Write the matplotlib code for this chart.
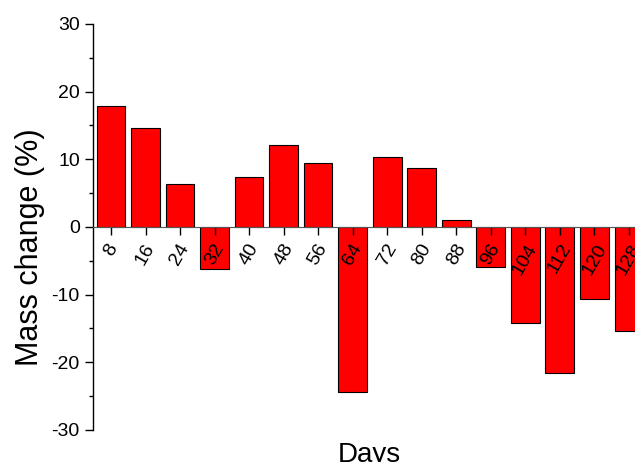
import numpy as np
import matplotlib
matplotlib.use("Agg")
import matplotlib.pyplot as plt
from matplotlib.ticker import MultipleLocator

# Mass change per sampling day
days = [8, 16, 24, 32, 40, 48, 56, 64, 72, 80, 88, 96, 104, 112, 120, 128]
mass_change = [17.9, 14.7, 6.35, -6.2, 7.4, 12.1, 9.45, -24.4,
               10.3, 8.7, 1.1, -5.9, -14.2, -21.6, -10.6, -15.3]

plt.rcParams["font.family"] = ["Liberation Sans", "DejaVu Sans"]
plt.rcParams["axes.unicode_minus"] = False

fig = plt.figure(figsize=(6.35, 4.62), dpi=100)
ax = fig.add_axes([0.1465, 0.0693, 0.871, 0.8788])
ax.set_axisbelow(False)

x = np.arange(1, len(days) + 1)
ax.bar(x, mass_change, width=0.83, color="#ff0000", edgecolor="black",
       linewidth=0.8, zorder=2)

ax.set_xlim(0.48, 16.5)
ax.set_ylim(-30, 30)

# x axis sits on the zero line, labels rotated below it
ax.spines["bottom"].set_position(("data", 0))
ax.spines["bottom"].set_color("#555555")
ax.spines["bottom"].set_zorder(3)
ax.spines["top"].set_visible(False)
ax.spines["right"].set_visible(False)
ax.spines["left"].set_linewidth(1.0)

ax.set_xticks(x)
ax.set_xticklabels([str(d) for d in days], rotation=60, fontsize=14)
ax.tick_params(axis="x", direction="out", length=6, width=1, pad=4)

ax.yaxis.set_major_locator(MultipleLocator(10))
ax.yaxis.set_minor_locator(MultipleLocator(5))
ax.tick_params(axis="y", which="major", direction="out", length=6, width=1,
               labelsize=14)
ax.tick_params(axis="y", which="minor", direction="out", length=3, width=1)

ax.set_ylabel("Mass change (%)", fontsize=22)
ax.yaxis.set_label_coords(-0.086, 0.449)
ax.set_xlabel("Days", fontsize=20)
ax.xaxis.set_label_coords(0.5, -0.03)

fig.savefig("out.png", dpi=100)
